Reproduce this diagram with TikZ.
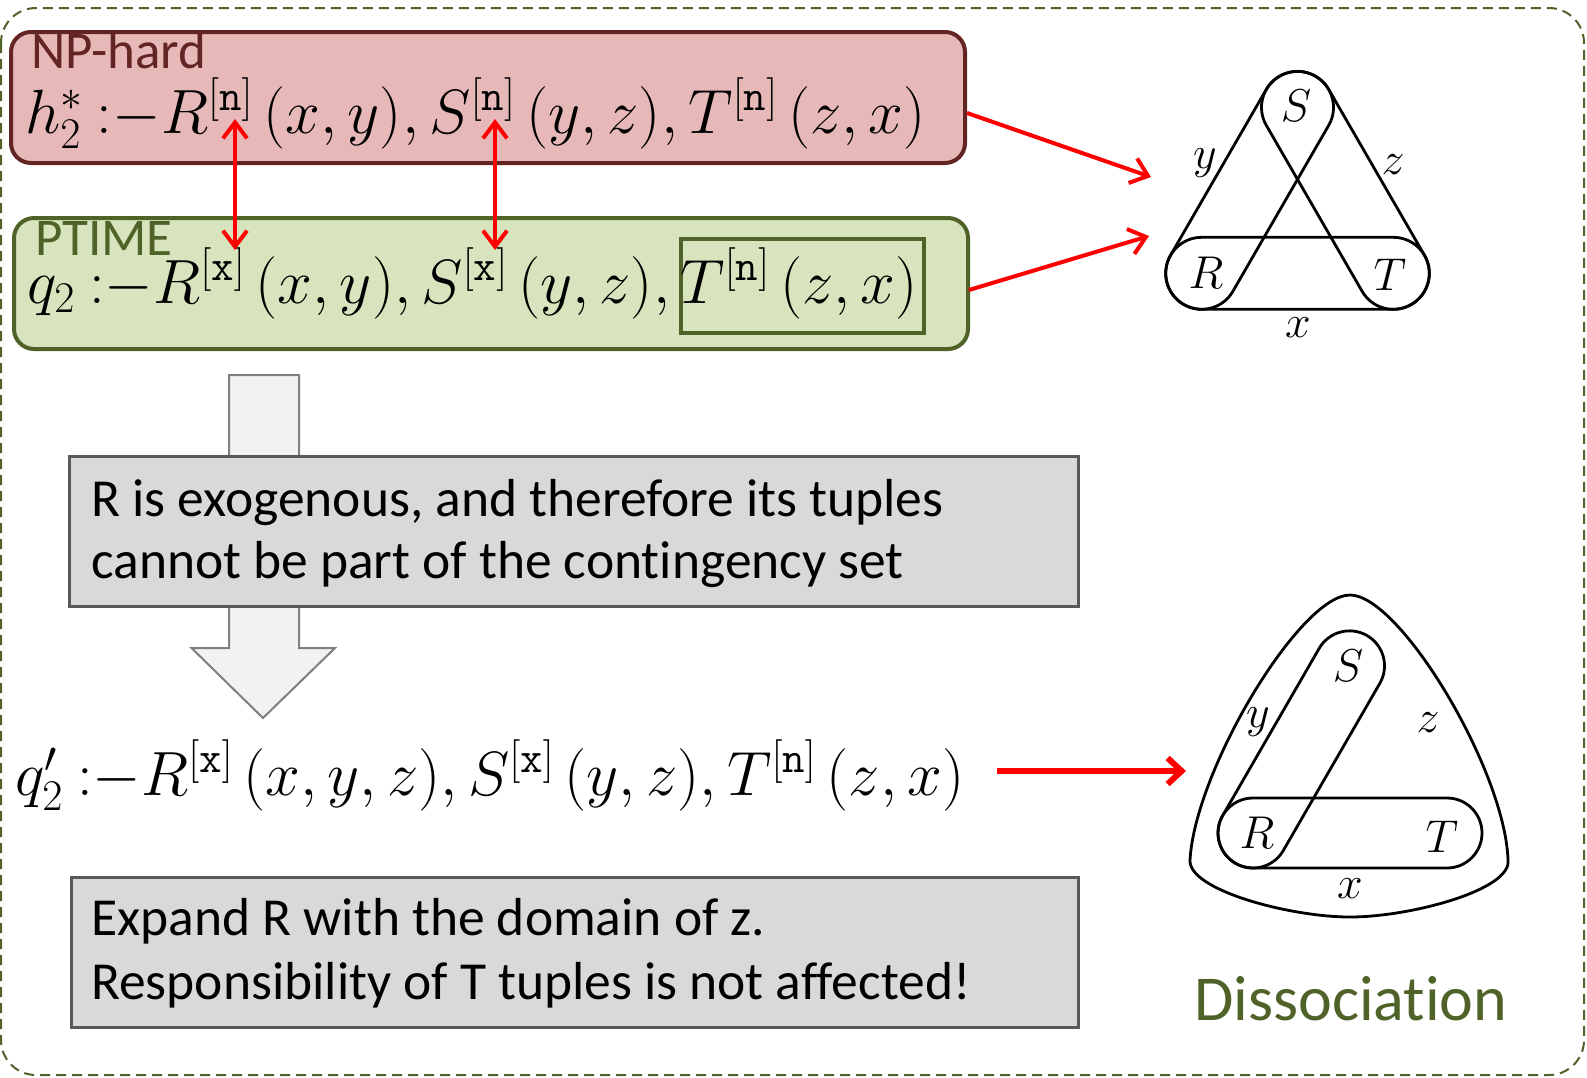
\RequirePackage{fix-cm}
\documentclass[tikz,border=0pt]{standalone}
\usepackage{amsmath}
\usepackage[no-math]{fontspec}
\setmainfont{Carlito}[Ligatures={NoRequired,NoCommon,NoContextual}, Contextuals=NoAlternate]
\usetikzlibrary{arrows.meta}
\definecolor{npfill}{HTML}{E6B9B8}
\definecolor{npdraw}{HTML}{632523}
\definecolor{ptfill}{HTML}{D7E4BD}
\definecolor{ptdraw}{HTML}{4F6228}
\definecolor{grayfill}{HTML}{D9D9D9}
\definecolor{graydraw}{HTML}{595959}
\definecolor{arrfill}{HTML}{F2F2F2}
\definecolor{arrdraw}{HTML}{7F7F7F}
\newcommand{\mysup}[1]{^{[\text{\ttfamily #1}]}}
\newcommand{\myrule}{\ {:}{-}}
\begin{document}
\begin{tikzpicture}[x=1pt,y=-1pt,
  outerbox/.style={draw=ptdraw, line width=2pt, dash pattern=on 10pt off 6pt, rounded corners=35pt},
  npbox/.style={draw=npdraw, fill=npfill, line width=4pt, rounded corners=20pt, inner sep=0pt},
  ptbox/.style={draw=ptdraw, fill=ptfill, line width=4pt, rounded corners=20pt, inner sep=0pt},
  tbox/.style={draw=ptdraw, line width=4pt, inner sep=0pt},
  graybox/.style={draw=graydraw, fill=grayfill, line width=3pt, inner sep=0pt},
  blockarrow/.style={draw=arrdraw, fill=arrfill, line width=2pt},
  formula/.style={anchor=base west, inner sep=0pt, font=\fontsize{62.5}{70}\selectfont},
  label/.style={anchor=base west, inner sep=0pt, font=\fontsize{53}{60}\selectfont},
  bodytext/.style={anchor=base west, inner sep=0pt, font=\fontsize{53.5}{62}\selectfont},
  hg/.style={draw=black, line width=2.8pt},
  hglabel/.style={inner sep=0pt, font=\fontsize{46}{50}\selectfont},
  redarr/.style={draw=red, line width=4pt, -{Straight Barb[length=16pt,width=26pt]}},
  redthick/.style={draw=red, line width=6pt, -{Straight Barb[length=14pt,width=26pt]}},
  reddouble/.style={draw=red, line width=4pt, {Straight Barb[length=16pt,width=24pt]}-{Straight Barb[length=16pt,width=24pt]}}
]
\useasboundingbox (0,0) rectangle (1587,1077);

% outer dashed frame
\draw[outerbox] (1,8) rectangle (1584,1075);

% NP-hard box
\node[npbox, minimum width=954pt, minimum height=131pt] (np) at (488,97.5) {};
\node[label, text=npdraw] (nplabel) at (31,68) {NP-hard};
\node[formula] (f1) at (25,133) {$h_2^*\myrule R\mysup{n}\,(x,y), S\mysup{n}\,(y,z), T\mysup{n}\,(z,x)$};

% PTIME box
\node[ptbox, minimum width=954pt, minimum height=131pt] (pt) at (491,283.5) {};
\node[tbox, minimum width=243pt, minimum height=94pt] (tb) at (802.5,286) {};
\node[label, text=ptdraw] (ptlabel) at (35,255) {PTIME};
\node[formula] (f2) at (27,303) {$q_2\myrule R\mysup{x}\,(x,y), S\mysup{x}\,(y,z), T\mysup{n}\,(z,x)$};

% double arrows
\coordinate (d1t) at (235,119);
\coordinate (d1b) at (235,250);
\coordinate (d2t) at (495,119);
\coordinate (d2b) at (495,250);
\draw[reddouble] (d1t) -- (d1b);
\draw[reddouble] (d2t) -- (d2b);

% block arrow
\draw[blockarrow] (229,375) -- (299,375) -- (299,648) -- (335,648) -- (263,718) -- (191.5,648) -- (229,648) -- cycle;

% gray box 1
\node[graybox, minimum width=1009pt, minimum height=150pt] (g1) at (573.5,531) {};
\node[bodytext] (g1a) at (91,516.5) {R is exogenous, and therefore its tuples};
\node[bodytext] (g1b) at (91,578) {cannot be part of the contingency set};

% formula 3
\node[formula] (f3) at (15,795) {$q'_2\myrule R\mysup{x}\,(x,y,z), S\mysup{x}\,(y,z), T\mysup{n}\,(z,x)$};

% gray box 2
\node[graybox, minimum width=1007pt, minimum height=150pt] (g2) at (574.5,952) {};
\node[bodytext] (g2a) at (91,935) {Expand R with the domain of z.};
\node[bodytext] (g2b) at (91,999) {Responsibility of T tuples is not affected!};

% Dissociation
\node[anchor=base west, inner sep=0pt, text=ptdraw, font=\fontsize{64}{70}\selectfont] (dis) at (1194,1020.5) {Dissociation};

% hypergraph 1
\begin{scope}[shift={(1201.7,273.3)}, rotate=60]
  \draw[hg, rounded corners=36pt] (-36,-36) rectangle (227.6,36);
\end{scope}
\begin{scope}[shift={(1297.5,107.4)}, rotate=-60]
  \draw[hg, rounded corners=36pt] (-36,-36) rectangle (227.6,36);
\end{scope}
\begin{scope}[shift={(1201.7,273.3)}]
  \draw[hg, rounded corners=36pt] (-36,-36) rectangle (227.6,36);
\end{scope}
\node[hglabel] (h1R) at (1206,273) {$R$};
\node[hglabel] (h1S) at (1296,106) {$S$};
\node[hglabel] (h1T) at (1390,275) {$T$};
\node[hglabel] (h1y) at (1205,163) {$y$};
\node[hglabel] (h1z) at (1393,165) {$z$};
\node[hglabel] (h1x) at (1298,328) {$x$};

% hypergraph 2
\draw[hg] (1350,595) .. controls (1300,595) and (1195,770) .. (1190,860)
  .. controls (1188,890) and (1290,917) .. (1350,917)
  .. controls (1410,917) and (1512,890) .. (1508,860)
  .. controls (1505,770) and (1400,595) .. cycle;
\begin{scope}[shift={(1253,833)}, rotate=60]
  \draw[hg, rounded corners=35pt] (-35,-35) rectangle (228,35);
\end{scope}
\begin{scope}[shift={(1253,833)}]
  \draw[hg, rounded corners=35pt] (-35,-35) rectangle (229,35);
\end{scope}
\node[hglabel] (h2R) at (1257,833) {$R$};
\node[hglabel] (h2S) at (1348,666) {$S$};
\node[hglabel] (h2T) at (1442,837) {$T$};
\node[hglabel] (h2y) at (1258,722) {$y$};
\node[hglabel] (h2z) at (1428,723) {$z$};
\node[hglabel] (h2x) at (1350,889) {$x$};

% red connectors
\coordinate (a1s) at (967,113);
\coordinate (a1e) at (1151,177);
\coordinate (a2s) at (969,290);
\coordinate (a2e) at (1149,236);
\coordinate (a3s) at (997,771);
\coordinate (a3e) at (1186,771);
\draw[redarr] (a1s) -- (a1e);
\draw[redarr] (a2s) -- (a2e);
\draw[redthick] (a3s) -- (a3e);
\end{tikzpicture}
\end{document}
